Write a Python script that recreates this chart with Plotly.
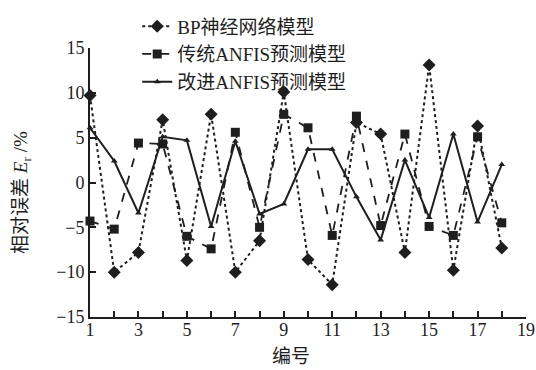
import plotly.graph_objects as go

x_ids = list(range(1, 19))
bp_vals = [9.7, -10.0, -7.8, 7.0, -8.7, 7.6, -10.0, -6.5, 10.1, -8.6,
           -11.4, 6.7, 5.4, -7.8, 13.1, -9.8, 6.3, -7.3]
anfis_vals = [-4.3, -5.2, 4.4, 4.3, -6.0, -7.4, 5.6, -5.0, 7.6, 6.1,
              -5.9, 7.4, -4.8, 5.4, -4.9, -5.9, 5.1, -4.5]
improved_vals = [6.1, 2.4, -3.4, 5.1, 4.7, -4.9, 4.6, -3.5, -2.4, 3.7,
                 3.7, -1.6, -6.4, 2.5, -3.9, 5.4, -4.4, 2.0]

names = ["BP神经网络模型", "传统ANFIS预测模型", "改进ANFIS预测模型"]
x_title = "编号"
y_title = "相对误差 <i>E</i><sub>r</sub> /%"
x_tickvals = [1, 3, 5, 7, 9, 11, 13, 15, 17, 19]
y_tickvals = [-15, -10, -5, 0, 5, 10, 15]

FONT = "Liberation Serif, Noto Sans CJK SC, serif"
INK = "#1e1e1e"

fig = go.Figure()
fig.add_trace(go.Scatter(x=x_ids, y=bp_vals, name=names[0], mode="lines+markers",
                         line=dict(color=INK, width=2, dash="dot"),
                         marker=dict(symbol="diamond", size=10, color=INK),
                         cliponaxis=False))
fig.add_trace(go.Scatter(x=x_ids, y=anfis_vals, name=names[1], mode="lines+markers",
                         line=dict(color=INK, width=1.8, dash="dash"),
                         marker=dict(symbol="square", size=9, color=INK),
                         cliponaxis=False))
fig.add_trace(go.Scatter(x=x_ids, y=improved_vals, name=names[2], mode="lines+markers",
                         line=dict(color=INK, width=2),
                         marker=dict(symbol="triangle-up", size=6, color=INK),
                         cliponaxis=False))

fig.update_layout(
    width=536, height=370,
    margin=dict(l=90, r=10, t=48, b=53, autoexpand=False),
    paper_bgcolor="white", plot_bgcolor="white",
    font=dict(family=FONT, size=18, color=INK),
    showlegend=True,
    legend=dict(x=0.256, y=0.98, xref="container", yref="container",
                xanchor="left", yanchor="top",
                bgcolor="rgba(0,0,0,0)", font=dict(size=19),
                tracegroupgap=0, itemwidth=30),
    xaxis=dict(range=[1, 19], tickvals=x_tickvals,
               ticks="inside", ticklen=6, tickwidth=1.5, tickcolor=INK,
               minor=dict(dtick=1, tick0=0, ticks="inside", ticklen=6,
                          tickwidth=1.5, tickcolor=INK, showgrid=False),
               showline=True, linecolor=INK, linewidth=2, showgrid=False,
               zeroline=False, ticklabelstandoff=-5, ticklabeloverflow="allow",
               tickfont=dict(size=18)),
    yaxis=dict(range=[-15, 15], tickvals=y_tickvals,
               ticks="inside", ticklen=6, tickwidth=1.5, tickcolor=INK,
               showline=True, linecolor=INK, linewidth=2, showgrid=False,
               zeroline=False, tickfont=dict(size=18)),
    annotations=[
        dict(text=x_title, xref="paper", yref="paper", x=0.461, y=-0.148,
             xanchor="center", yanchor="middle", showarrow=False,
             font=dict(size=19)),
        dict(text=y_title, xref="paper", yref="paper", x=-0.156, y=0.465,
             xanchor="center", yanchor="middle", showarrow=False,
             textangle=-90, font=dict(size=19)),
    ],
)

# remove the page's default body margin so the figure fills the window exactly
fig.write_html("out.html", config={"displayModeBar": False},
               post_script="document.body.style.margin='0';"
                           "document.body.style.overflow='hidden';")
